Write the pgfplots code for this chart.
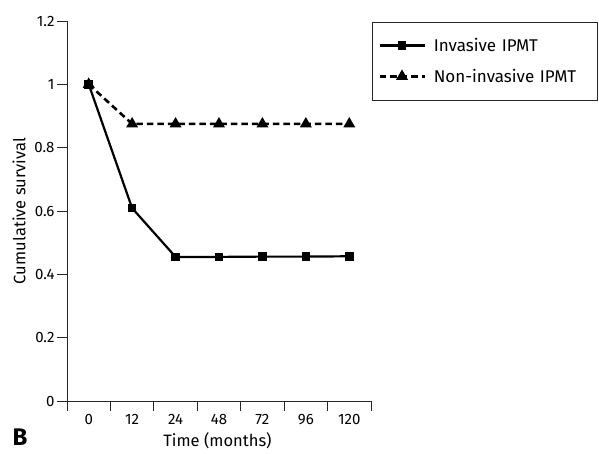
\documentclass[border=0pt]{standalone}
\usepackage{fontspec}
\setmainfont{Fira Sans}
\usepackage{pgfplots}
\pgfplotsset{compat=1.18}

\begin{document}
\begin{tikzpicture}
\begin{axis}[
  at={(0,0)}, anchor=south west,
  scale only axis,
  width=304pt, height=380pt,
  xmin=-0.5, xmax=6.5,
  ymin=0, ymax=1.2,
  axis x line*=bottom, axis y line*=left,
  axis line style={black!85, line width=0.8pt},
  xtick={0,...,6},
  xticklabels={0,12,24,48,72,96,120},
  minor xtick={-0.5,0.5,...,6.5},
  major x tick style={draw=none},
  ytick={0,0.2,...,1.2},
  yticklabels={0,0.2,0.4,0.6,0.8,1,1.2},
  tick align=outside,
  major tick length=10pt,
  minor tick length=10pt,
  tick style={black!85, line width=0.8pt},
  ticklabel style={font=\fontsize{15}{17}\selectfont},
  yticklabel style={xshift=1pt},
  /pgf/number format/assume math mode=true,
  xlabel={Time (months)},
  ylabel={Cumulative survival},
  label style={font=\fontsize{16.5}{18}\selectfont},
  xlabel style={at={(axis description cs:0.495,-0.105)}, anchor=center},
  ylabel style={at={(axis description cs:-0.158,0.5)}, anchor=center},
  legend style={
    at={(1.0033,0.9974)}, anchor=north west,
    draw=black!85,
    font=\fontsize{17}{19}\selectfont,
    inner xsep=6pt, inner ysep=12pt,
    row sep=8pt,
    nodes={inner xsep=8pt, inner ysep=4pt, text width=149pt, align=left},
  },
  legend cell align=left,
  legend image code/.code={
    \draw[mark repeat=2, mark phase=2, #1] plot coordinates {(0pt,0pt) (22.5pt,0pt) (45pt,0pt)};
  },
]
\addplot[black, line width=2.2pt, mark=square*, mark size=3.2pt, mark options={solid}]
  coordinates {(0,1.0) (1,0.609) (2,0.455) (3,0.455) (4,0.456) (5,0.456) (6,0.457)};
\addlegendentry{Invasive IPMT}
\addplot[black, line width=2.6pt, dash pattern=on 6.5pt off 4pt, mark=triangle*, mark size=5.4pt, mark options={solid, line width=1.5pt}]
  coordinates {(0,1.0) (1,0.875) (2,0.875) (3,0.875) (4,0.875) (5,0.875) (6,0.875)};
\addlegendentry{Non-invasive IPMT}
\end{axis}
\node[font=\bfseries\fontsize{24}{26}\selectfont] at (-47pt,-36pt) {B};
\pgfresetboundingbox
\useasboundingbox (-67pt,-52pt) rectangle (532pt,401pt);
\end{tikzpicture}
\end{document}
